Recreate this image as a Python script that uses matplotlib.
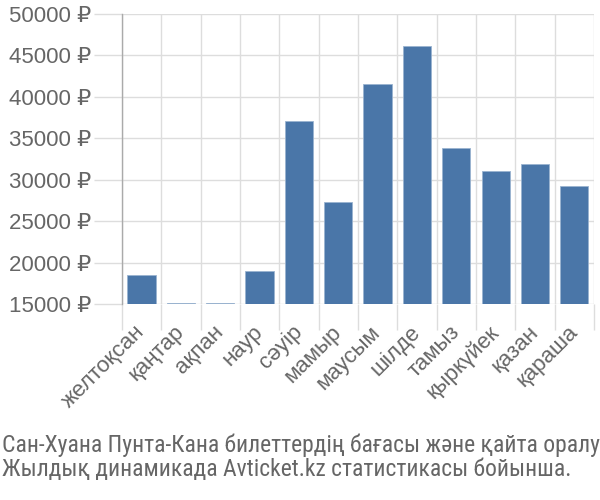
import matplotlib
matplotlib.use("Agg")
import matplotlib.pyplot as plt
from matplotlib.ticker import FixedLocator

MONTHS = ["желтоқсан", "қаңтар", "ақпан", "наур", "сәуір", "мамыр",
          "маусым", "шілде", "тамыз", "қыркүйек", "қазан", "қараша"]
PRICES = [18460, 15120, 15120, 18950, 37050, 27350,
          41550, 46140, 33790, 31010, 31940, 29200]
YTICKS = [15000, 20000, 25000, 30000, 35000, 40000, 45000, 50000]
CAPTION = ["Сан-Хуана Пунта-Кана билеттердің бағасы және қайта оралу",
           "Жылдық динамикада Avticket.kz статистикасы бойынша."]

BAR = "#4a76a8"
GRID = "#dddddd"
TEXT = "#666666"
FONT = ["Liberation Sans", "DejaVu Sans"]
NARROW = ["Liberation Sans Narrow", "Roboto Condensed", "DejaVu Sans"]

plt.rcParams["font.family"] = FONT

fig = plt.figure(figsize=(6, 5), dpi=100)
ax = fig.add_axes([0.2033, 0.392, 0.7867, 0.58])

x = list(range(len(MONTHS)))
ax.bar(x, PRICES, width=0.72, color=BAR, edgecolor="#9ab3d0", linewidth=0.6, zorder=3)

ax.set_xlim(-0.5, len(MONTHS) - 0.5)
ax.set_ylim(15000, 50000)

# y grid + ticks
ax.set_yticks(YTICKS)
ax.set_yticklabels([f"{v} ₽" for v in YTICKS], fontsize=16, color=TEXT)
ax.tick_params(axis="y", length=20, width=1, color=GRID, pad=2)
ax.yaxis.grid(True, color=GRID, linewidth=1, zorder=0)

# x: labels at centers, grid lines at boundaries
ax.set_xticks(x)
ax.set_xticklabels(MONTHS, rotation=45, ha="right", va="center",
                   rotation_mode="anchor", fontsize=16, color=TEXT)
ax.tick_params(axis="x", which="major", length=0, pad=18)
ax.xaxis.set_minor_locator(FixedLocator([i - 0.5 for i in range(len(MONTHS) + 1)]))
ax.tick_params(axis="x", which="minor", length=19, width=1, color=GRID)
ax.xaxis.grid(True, which="minor", color=GRID, linewidth=1, zorder=0)

for side in ["top", "right", "bottom"]:
    ax.spines[side].set_visible(False)
ax.spines["left"].set_color("#aaaaaa")
ax.spines["left"].set_linewidth(1)

fig.text(0.003, 0.11, CAPTION[0], fontsize=17, color=TEXT, family=NARROW, va="center")
fig.text(0.003, 0.06, CAPTION[1], fontsize=17, color=TEXT, family=NARROW, va="center")

fig.savefig("out.png", dpi=100)
